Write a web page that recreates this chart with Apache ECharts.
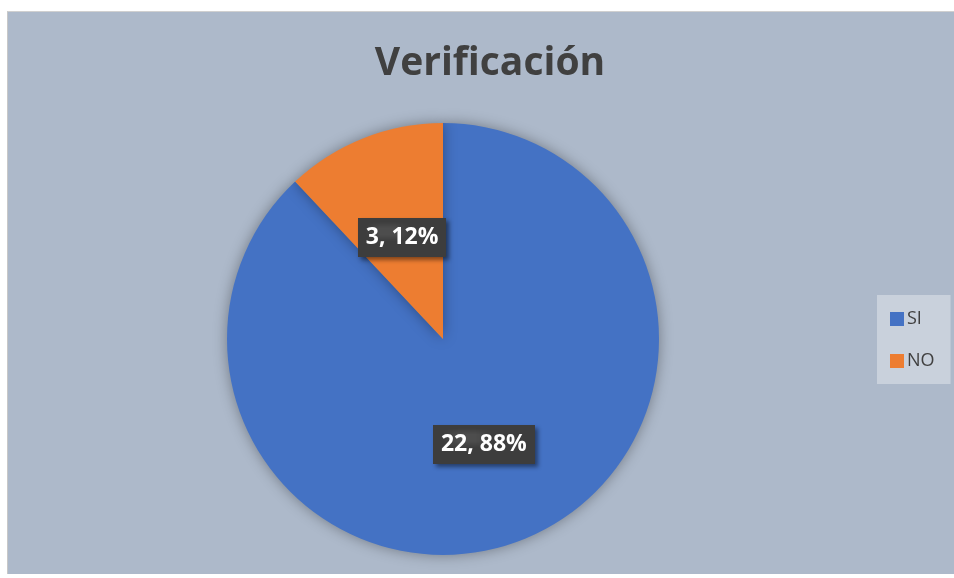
<!DOCTYPE html>
<html><head><meta charset="utf-8">
<script src="https://cdn.jsdelivr.net/npm/echarts@6/dist/echarts.min.js"></script>
<style>
html,body{margin:0;padding:0;background:#fff;width:954px;height:578px;overflow:hidden;}
#c{position:absolute;left:7px;top:11px;width:947px;height:563px;background:#adb9ca;border-left:1px solid #c8c8c8;border-top:1px solid #d0d0d0;box-sizing:border-box;}
</style></head>
<body><div id="c"></div>
<script>
const titleText = 'Verificación';
const categories = ['SI', 'NO'];
const values = [22, 3];
const colors = ['#4472c4', '#ed7d31'];

// dotted dark pattern for the label boxes
const pc = document.createElement('canvas');
pc.width = 6; pc.height = 6;
const px = pc.getContext('2d');
px.fillStyle = '#3d3d3d'; px.fillRect(0,0,6,6);
px.fillStyle = '#4d4d4d'; px.fillRect(1,1,2,2);

const chart = echarts.init(document.getElementById('c'));
chart.setOption({
  animation: false,
  title: {
    text: titleText, left: 484 - 7, top: 27, textAlign: 'center',
    textStyle: { fontFamily: 'Open Sans', fontWeight: 'bold', fontSize: 39, color: '#404040' }
  },
  legend: {
    orient: 'vertical', left: 869, top: 283,
    backgroundColor: '#c9d1dc',
    padding: [15, 16, 14, 13],
    itemWidth: 14, itemHeight: 14, itemGap: 24,
    icon: 'rect',
    textStyle: { fontFamily: 'Open Sans', fontSize: 18, color: '#404040', padding: [0,0,0,-2] },
    data: categories
  },
  series: [{
    type: 'pie',
    center: [435, 327],
    radius: [0, 216],
    startAngle: 90,
    clockwise: true,
    data: categories.map((c, i) => ({ name: c, value: values[i], itemStyle: { color: colors[i] } })),
    itemStyle: { shadowBlur: 14, shadowColor: 'rgba(0,0,0,0.35)' },
    label: {
      show: true, position: 'inside',
      offset: [0, 2],
      formatter: p => p.value + ', ' + Math.round(p.percent) + '%',
      fontFamily: 'Open Sans', fontWeight: 'bold', fontSize: 23, color: '#fff',
      backgroundColor: { image: pc, repeat: 'repeat' },
      padding: [9, 8, 7, 8],
      shadowBlur: 4, shadowOffsetX: 3, shadowOffsetY: 3, shadowColor: 'rgba(0,0,0,0.45)'
    },
    labelLine: { show: false },
    emphasis: { disabled: true }
  }]
});
</script>
</body></html>
